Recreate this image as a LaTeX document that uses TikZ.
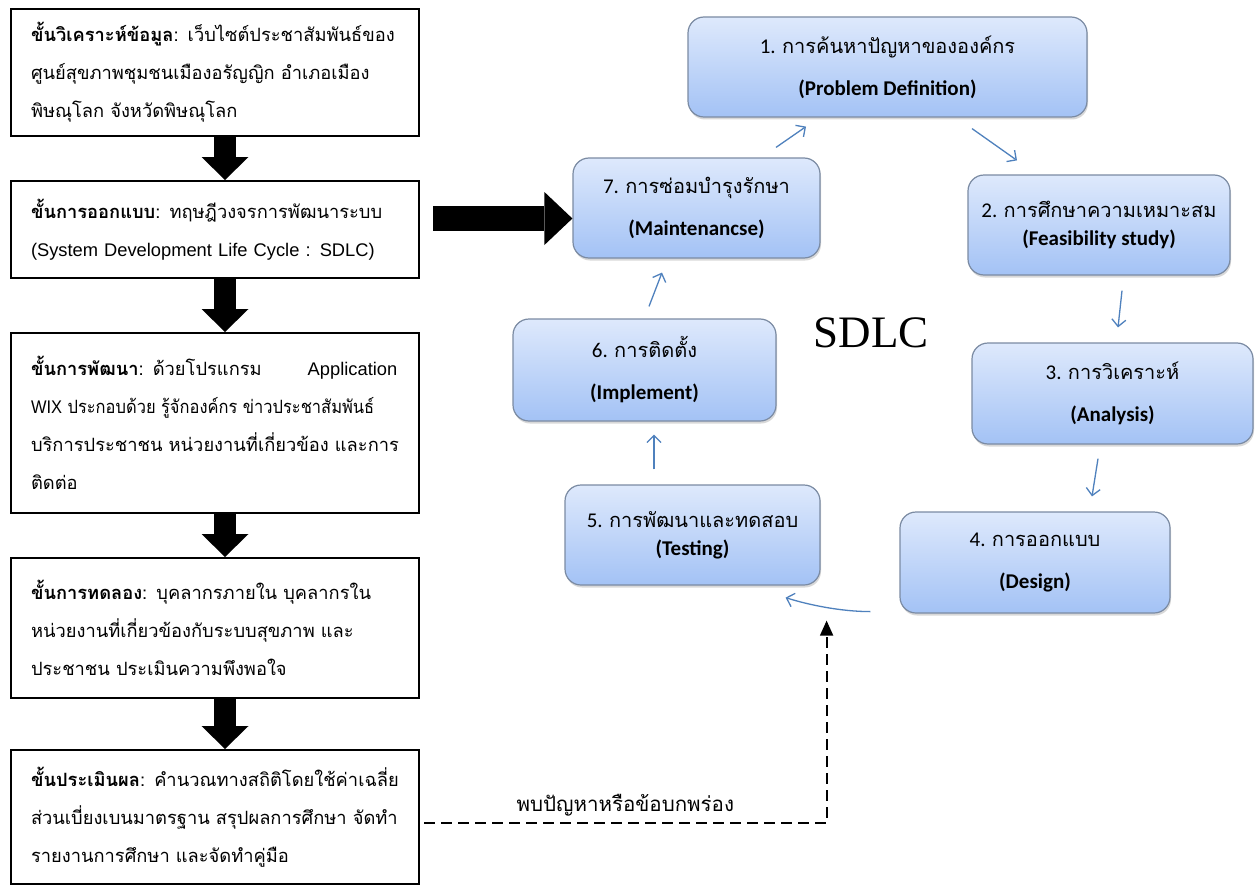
\documentclass[tikz,border=0pt]{standalone}
\usepackage{fontspec}
\usepackage{graphicx}
\setmainfont{Liberation Sans}
\newfontfamily\thaifont[Script=Thai]{Loma}
\newfontfamily\calfont{Carlito}
\newfontfamily\serifont{Liberation Serif}
\usetikzlibrary{arrows.meta,shadows}
\definecolor{cycblue}{HTML}{4F81BD}
\definecolor{boxtop}{HTML}{DEE9FC}
\definecolor{boxbot}{HTML}{A3C2F5}
\definecolor{boxline}{HTML}{7B8BA3}
\newcommand{\thaitxt}[1]{{\thaifont\fontsize{20}{28}\selectfont #1}}
\hfuzz=60pt
\begin{document}
\begin{tikzpicture}[x=1pt,y=-1pt,
    stepbox/.style={draw=black, line width=2pt, anchor=north west,
        text width=368pt, inner xsep=20pt, align=left,
        font=\thaifont\fontsize{18.3}{38}\selectfont},
    cyclebox/.style={draw=boxline, line width=1.2pt, rounded corners=16pt,
        top color=boxtop, bottom color=boxbot, align=center,
        drop shadow={shadow xshift=1pt, shadow yshift=-2.5pt, opacity=0.3},
        font=\calfont\fontsize{21}{28}\selectfont},
    bigarrow/.style={line width=22pt, -{Triangle[length=23pt, width=47pt, line width=0pt 0]}},
    cyc/.style={draw=cycblue, line width=1.3pt, -{Straight Barb[length=7pt, width=14pt]}}]

    \useasboundingbox[fill=white] (0,0) rectangle (1257,888);

    % steps of the study
    \node[stepbox, minimum height=127pt] (s1) at (10,8)
        {{\bfseries ขั้นวิเคราะห์ข้อมูล}: เว็บไซต์ประชาสัมพันธ์ของ\\ ศูนย์สุขภาพชุมชนเมืองอรัญญิก~อำเภอเมือง\\ พิษณุโลก~จังหวัดพิษณุโลก};
    \node[stepbox, minimum height=97pt] (s2) at (10,180)
        {{\bfseries ขั้นการออกแบบ}: ทฤษฎีวงจรการพัฒนาระบบ\\ {\rmfamily (System Development Life Cycle : SDLC)}};
    \node[stepbox, minimum height=180pt] (s3) at (10,332)
        {{\bfseries ขั้นการพัฒนา}: ด้วยโปรแกรม\hspace{46pt}{\rmfamily Application}\\ \scalebox{0.9}[1]{{\rmfamily WIX} ประกอบด้วย รู้จักองค์กร ข่าวประชาสัมพันธ์}\\ บริการประชาชน~หน่วยงานที่เกี่ยวข้อง~และการ\\ ติดต่อ};
    \node[stepbox, minimum height=140pt] (s4) at (10,557)
        {{\bfseries ขั้นการทดลอง}: บุคลากรภายใน~บุคลากรใน\\ หน่วยงานที่เกี่ยวข้องกับระบบสุขภาพ~และ\\ ประชาชน~ประเมินความพึงพอใจ};
    \node[stepbox, minimum height=134pt] (s5) at (10,749)
        {{\bfseries ขั้นประเมินผล}: คำนวณทางสถิติโดยใช้ค่าเฉลี่ย\\ ส่วนเบี่ยงเบนมาตรฐาน~สรุปผลการศึกษา~จัดทำ\\ รายงานการศึกษา~และจัดทำคู่มือ};

    \foreach \a/\b in {s1/s2, s2/s3, s3/s4, s4/s5}
        \draw[bigarrow] ([xshift=10pt]\a.south) -- ([xshift=10pt]\b.north);

    % SDLC cycle
    \node[cyclebox, minimum width=399pt, minimum height=100pt] (c1) at (887.5,67)
        {1. \thaitxt{การค้นหาปัญหาขององค์กร}\\[14pt] {\bfseries (Problem Definition)}};
    \node[cyclebox, minimum width=262pt, minimum height=100pt] (c2) at (1099,225)
        {2. \thaitxt{การศึกษาความเหมาะสม}\\ {\bfseries (Feasibility study)}};
    \node[cyclebox, minimum width=281pt, minimum height=101pt] (c3) at (1112.5,393.5)
        {3. \thaitxt{การวิเคราะห์}\\[14pt] {\bfseries (Analysis)}};
    \node[cyclebox, minimum width=270pt, minimum height=101pt] (c4) at (1035,562.5)
        {4. \thaitxt{การออกแบบ}\\[14pt] {\bfseries (Design)}};
    \node[cyclebox, minimum width=255pt, minimum height=100pt] (c5) at (692.5,535)
        {5. \thaitxt{การพัฒนาและทดสอบ}\\ {\bfseries (Testing)}};
    \node[cyclebox, minimum width=263pt, minimum height=102pt] (c6) at (644.5,370)
        {6. \thaitxt{การติดตั้ง}\\[14pt] {\bfseries (Implement)}};
    \node[cyclebox, minimum width=247pt, minimum height=100pt] (c7) at (696.5,208)
        {7. \thaitxt{การซ่อมบำรุงรักษา}\\[14pt] {\bfseries (Maintenancse)}};

    \node[font=\serifont\fontsize{45}{45}\selectfont] (sdlc) at (871,333) {SDLC};

    \draw[cyc] ([shift={(79.5,-10)}]c7.north) -- ([shift={(-81.5,9)}]c1.south);
    \draw[cyc] ([shift={(84.5,11)}]c1.south) -- ([shift={(-82,-14)}]c2.north);
    \draw[cyc] ([shift={(23,15)}]c2.south) -- ([shift={(5.5,-15)}]c3.north);
    \draw[cyc] ([shift={(-14.5,14)}]c3.south) -- ([shift={(57,-15)}]c4.north);
    \draw[cyc] ([shift={(-29,-2)}]c4.south west) .. controls +(-30,0) and +(22,7) .. ([shift={(-35,12)}]c5.south east);
    \draw[cyc] ([shift={(-38.5,-15)}]c5.north) -- ([shift={(9.5,13)}]c6.south);
    \draw[cyc] ([shift={(4.5,-12)}]c6.north) -- ([shift={(-34.5,14)}]c7.south);

    % design step into the cycle
    \draw[bigarrow, line width=25pt, -{Triangle[length=28pt, width=53pt, line width=0pt 0]}]
        ([xshift=13pt,yshift=11pt]s2.east) coordinate (sdlcin) -- (c7.west |- sdlcin);

    % feedback when a problem is found
    \draw[line width=1.8pt, dash pattern=on 11pt off 6pt, -{Triangle[length=15pt, width=13pt]}]
        ([shift={(4,6)}]s5.east) -| ([shift={(6,35)}]c5.south east)
        node[pos=0.25, above=3pt, font=\thaifont\fontsize{20.5}{22}\selectfont] (found) {พบปัญหาหรือข้อบกพร่อง};
\end{tikzpicture}
\end{document}
